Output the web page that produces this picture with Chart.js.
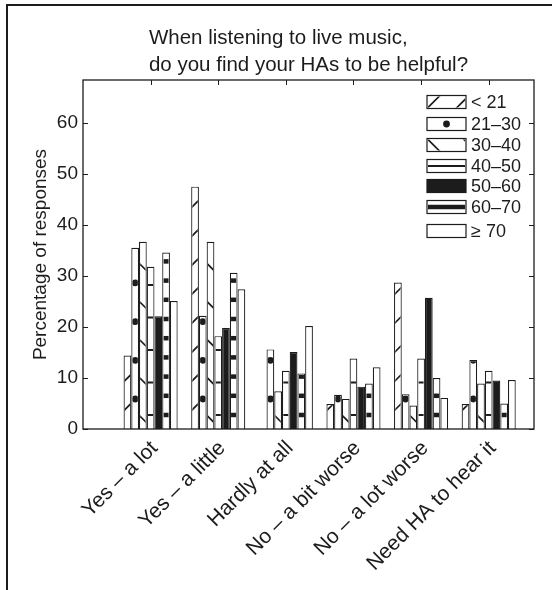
<!DOCTYPE html>
<html lang="en">
<head>
  <meta charset="UTF-8">
  <title>Live music and HAs</title>
  <script src="https://cdn.jsdelivr.net/npm/chart.js"></script>
  <style>
    html, body { margin: 0; padding: 0; background: #fff; }
  </style>
</head>
<body>
  <canvas id="myChart" width="552" height="590"></canvas>

  <script>
    // answers on the x axis
    const categories = ['Yes – a lot', 'Yes – a little', 'Hardly at all', 'No – a bit worse', 'No – a lot worse', 'Need HA to hear it'];
    // age groups (one bar per group in each answer)
    const ageGroups = ['< 21', '21–30', '30–40', '40–50', '50–60', '60–70', '≥ 70'];

    // percentage of responses
    const under21   = [14.4, 47.5, 0,    4.9,  28.7, 4.9];
    const age21to30 = [35.5, 22.2, 15.6, 6.7,  6.8,  13.5];
    const age30to40 = [36.7, 36.7, 7.4,  5.9,  4.6,  8.9];
    const age40to50 = [31.8, 18.2, 11.4, 13.8, 13.8, 11.4];
    const age50to60 = [22.1, 19.8, 15.1, 8.3,  25.7, 9.5];
    const age60to70 = [34.6, 30.6, 10.9, 8.9,  10.0, 5.0];
    const age70plus = [25.1, 27.4, 20.2, 12.1, 6.1,  9.6];

    const yTicks = [0, 10, 20, 30, 40, 50, 60];
    const titleLines = ['When listening to live music,', 'do you find your HAs to be helpful?'];

    const ink = '#1c1c1c';
    const family = '"Liberation Sans", Arial, Helvetica, sans-serif';
    const series = [under21, age21to30, age30to40, age40to50, age50to60, age60to70, age70plus];
    const hatches = ['slash', 'dot', 'backslash', 'hline', 'solid', 'thick', 'none'];
    const bw = 1.2;

    // black & white hatching, like the printed figure
    function drawHatch(ctx, kind, l, t, r, b, inLegend) {
      const w = r - l, h = b - t;
      if (w <= 0 || h <= 0 || kind === 'none' || kind === 'solid') return;
      ctx.save();
      ctx.beginPath();
      ctx.rect(l, t, w, h);
      ctx.clip();
      ctx.strokeStyle = ink;
      ctx.fillStyle = ink;
      const cx = (l + r) / 2;

      if (kind === 'slash' || kind === 'backslash') {
        const P = kind === 'slash' ? 29 : (inLegend ? 36 : 38);
        const ax = inLegend ? l : cx;
        const ay = inLegend ? (kind === 'slash' ? b : t) : b - (kind === 'slash' ? 22 : 10);
        ctx.lineWidth = 1.7;
        for (let k = -30; k <= 30; k++) {
          const y0 = ay - k * P;
          ctx.beginPath();
          if (kind === 'slash') {
            ctx.moveTo(l - 2, y0 + (ax - l + 2));
            ctx.lineTo(r + 2, y0 - (r + 2 - ax));
          } else {
            ctx.moveTo(l - 2, y0 - (ax - l + 2));
            ctx.lineTo(r + 2, y0 + (r + 2 - ax));
          }
          ctx.stroke();
        }
      } else if (kind === 'dot') {
        const P = 38.7, off = inLegend ? h / 2 : 30;
        for (let y = b - off; y > t - 4; y -= P) {
          ctx.beginPath();
          ctx.arc(cx, y, 3.4, 0, Math.PI * 2);
          ctx.fill();
        }
      } else if (kind === 'hline') {
        const P = 32.5, off = inLegend ? h / 2 : 14;
        for (let y = b - off; y > t - 2; y -= P) ctx.fillRect(l, y - 1, w, 2);
      } else if (kind === 'thick') {
        const P = 19.2, off = inLegend ? h / 2 : 14;
        for (let y = b - off; y > t - 3; y -= P) ctx.fillRect(l, y - 2.25, w, 4.5);
      }
      ctx.restore();
    }

    const hatchPlugin = {
      id: 'hatchPlugin',
      beforeDatasetsDraw(chart) {
        // inward tick marks (under the bars)
        const {ctx, chartArea: a, scales} = chart;
        ctx.save();
        ctx.strokeStyle = ink;
        ctx.lineWidth = 1;
        yTicks.forEach(v => {
          const py = Math.round(scales.y.getPixelForValue(v)) + 0.5;
          ctx.beginPath();
          ctx.moveTo(a.left, py); ctx.lineTo(a.left + 5, py);
          ctx.moveTo(a.right, py); ctx.lineTo(a.right - 5, py);
          ctx.stroke();
        });
        categories.forEach((c, i) => {
          const px = Math.round(scales.x.getPixelForValue(i + 1)) + 0.5;
          ctx.beginPath();
          ctx.moveTo(px, a.top); ctx.lineTo(px, a.top + 5);
          ctx.moveTo(px, a.bottom); ctx.lineTo(px, a.bottom - 5);
          ctx.stroke();
        });
        ctx.restore();
      },
      afterDatasetsDraw(chart) {
        const {ctx, chartArea: a} = chart;
        chart.data.datasets.forEach((ds, i) => {
          const meta = chart.getDatasetMeta(i);
          meta.data.forEach(bar => {
            const {x, y, base, width} = bar.getProps(['x', 'y', 'base', 'width'], true);
            const l = x - width / 2 + bw, r = x + width / 2 - bw;
            const t = Math.min(y, base) + bw, b = Math.max(y, base);
            drawHatch(ctx, ds.hatch, l, t, r, b, false);
          });
        });
        // axes box
        ctx.save();
        ctx.strokeStyle = ink;
        ctx.lineWidth = 1.3;
        ctx.strokeRect(a.left, a.top, a.right - a.left, a.bottom - a.top);
        ctx.restore();
      },
      afterDraw(chart) {
        const {ctx, chartArea: a} = chart;
        ctx.save();
        // title, two lines left-aligned as one centred block
        ctx.font = '20.5px ' + family;
        ctx.fillStyle = ink;
        ctx.textBaseline = 'alphabetic';
        ctx.textAlign = 'left';
        const maxW = Math.max(...titleLines.map(s => ctx.measureText(s).width));
        const tx = (a.left + a.right) / 2 - maxW / 2;
        titleLines.forEach((s, i) => ctx.fillText(s, tx, 44 + i * 27));

        // legend inside the axes, top right
        ctx.font = '18px ' + family;
        ctx.textBaseline = 'middle';
        const rowY = [102, 124, 145, 166, 186, 207, 231];
        chart.data.datasets.forEach((ds, i) => {
          const cy = rowY[i];
          const sx = 427, sw = 39, sh = 13, sy = cy - sh / 2;
          ctx.fillStyle = ds.hatch === 'solid' ? ink : '#fff';
          ctx.fillRect(sx, sy, sw, sh);
          drawHatch(ctx, ds.hatch, sx + 1, sy + 1, sx + sw - 1, sy + sh - 1, true);
          ctx.strokeStyle = ink;
          ctx.lineWidth = 1.2;
          ctx.strokeRect(sx, sy, sw, sh);
          ctx.fillStyle = ink;
          ctx.fillText(ds.label, 471, cy + 1);
        });

        // frame of the cropped figure
        ctx.lineWidth = 2;
        ctx.beginPath();
        ctx.moveTo(7, 590); ctx.lineTo(7, 5); ctx.lineTo(552, 5);
        ctx.stroke();
        ctx.restore();
      }
    };

    const ctx = document.getElementById('myChart').getContext('2d');
    const myChart = new Chart(ctx, {
      type: 'bar',
      data: {
        datasets: series.map((vals, i) => ({
          label: ageGroups[i],
          data: vals.map((v, j) => ({x: j + 1, y: v})),
          backgroundColor: hatches[i] === 'solid' ? ink : '#fff',
          borderColor: ink,
          borderWidth: bw,
          hatch: hatches[i]
        }))
      },
      options: {
        responsive: false,
        animation: false,
        layout: { padding: { top: 80, left: 20, right: 18, bottom: 0 } },
        datasets: { bar: { categoryPercentage: 0.8, barPercentage: 1.0 } },
        plugins: {
          legend: { display: false },
          tooltip: { enabled: false },
          title: { display: false }
        },
        scales: {
          x: {
            type: 'linear',
            min: 0,
            max: 6.67,
            offset: false,
            grid: { display: false, drawTicks: false },
            border: { display: false },
            afterBuildTicks: s => { s.ticks = categories.map((c, i) => ({value: i + 1})); },
            afterFit: s => { s.height = 161; },
            ticks: {
              autoSkip: false,
              minRotation: 45,
              maxRotation: 45,
              padding: 7,
              labelOffset: 4,
              color: ink,
              font: { family: family, size: 21 },
              callback: v => categories[v - 1] || ''
            }
          },
          y: {
            min: 0,
            max: 68.4,
            grid: { display: false, drawTicks: false },
            border: { display: false },
            afterBuildTicks: s => { s.ticks = yTicks.map(v => ({value: v})); },
            afterFit: s => { s.width = 63; },
            ticks: {
              padding: 5,
              color: ink,
              font: { family: family, size: 19 }
            },
            title: {
              display: true,
              text: 'Percentage of responses',
              color: ink,
              padding: { top: 9, bottom: 0 },
              font: { family: family, size: 19 }
            }
          }
        }
      },
      plugins: [hatchPlugin]
    });
  </script>
</body>
</html>
